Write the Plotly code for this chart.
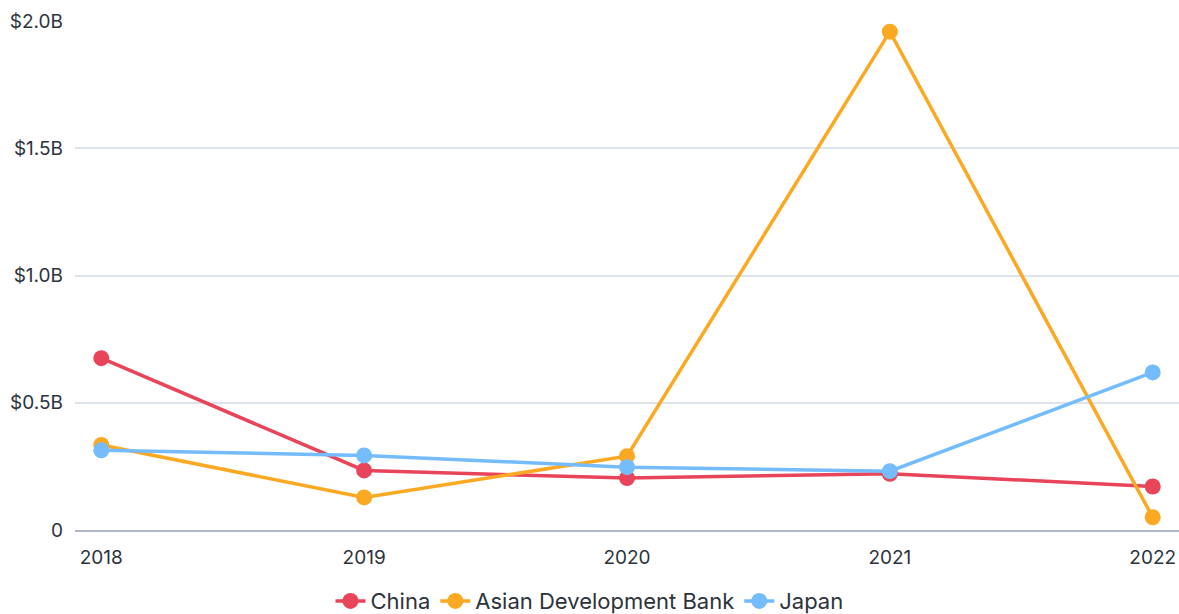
import plotly.graph_objects as go

years = ["2018", "2019", "2020", "2021", "2022"]

# Annual financing, in billions of US dollars
china = [0.675, 0.234, 0.204, 0.221, 0.171]
adb = [0.334, 0.128, 0.290, 1.958, 0.050]
japan = [0.313, 0.293, 0.247, 0.231, 0.619]

series_names = ["China", "Asian Development Bank", "Japan"]
series_values = [china, adb, japan]
series_colors = ["#E8445A", "#FBA922", "#74BCFC"]

y_tick_vals = [0, 0.5, 1.0, 1.5, 2.0]
y_tick_text = ["0", "$0.5B", "$1.0B", "$1.5B", "$2.0B"]

fig = go.Figure()
for name, vals, color in zip(series_names, series_values, series_colors):
    fig.add_trace(go.Scatter(
        x=list(range(len(years))),
        y=vals,
        name=name,
        mode="lines+markers",
        line=dict(color=color, width=3.5),
        marker=dict(color=color, size=16),
    ))

fig.update_layout(
    width=1179,
    height=614,
    margin=dict(l=75, r=0, t=21, b=84, autoexpand=False),
    paper_bgcolor="white",
    plot_bgcolor="white",
    font=dict(family="Inter", color="#2D333A", size=19),
    showlegend=True,
    legend=dict(
        orientation="h",
        xref="container",
        x=0.5,
        xanchor="center",
        yref="container",
        y=0.021,
        yanchor="middle",
        font=dict(size=22, color="#2D333A"),
        itemwidth=30,
        tracegroupgap=0,
    ),
    hovermode=False,
)

fig.update_xaxes(
    range=[-0.1, 4.1],
    tickmode="array",
    tickvals=list(range(len(years))),
    ticktext=years,
    showgrid=False,
    zeroline=False,
    showline=True,
    linecolor="#AEB9C5",
    linewidth=2,
    ticks="",
    ticklabelstandoff=9,
    tickfont=dict(size=19),
)

fig.update_yaxes(
    range=[0, 2.0],
    tickmode="array",
    tickvals=y_tick_vals,
    ticktext=y_tick_text,
    showgrid=True,
    gridcolor="#DEE4EB",
    gridwidth=2,
    zeroline=False,
    showline=False,
    ticks="",
    ticklabelstandoff=11,
    tickfont=dict(size=19),
)

fig.write_html("out.html")
